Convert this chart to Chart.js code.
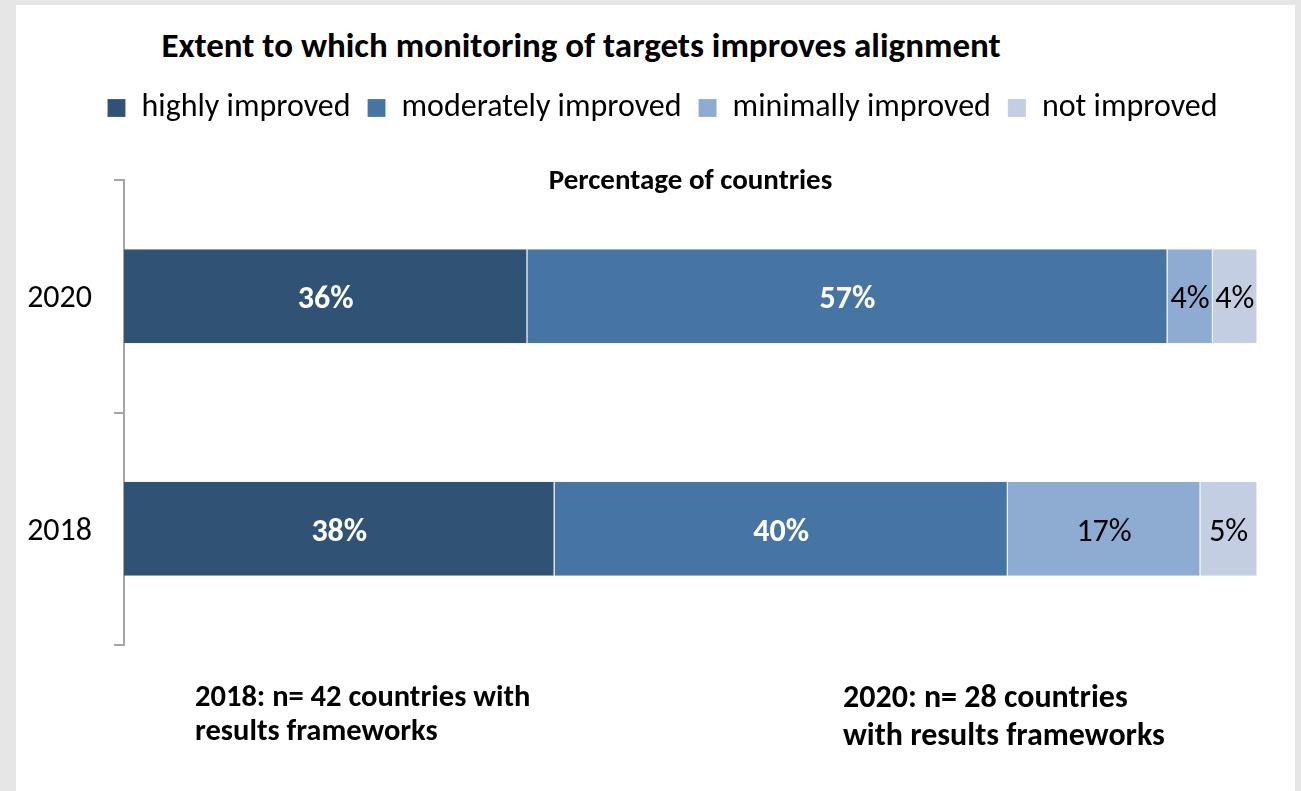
<!DOCTYPE html>
<html>
<head>
<meta charset="utf-8">
<script src="https://cdn.jsdelivr.net/npm/chart.js@4/dist/chart.umd.min.js"></script>
<style>
  html, body { margin: 0; padding: 0; }
  body { width: 1301px; height: 791px; background: #e6e6e6; position: relative; overflow: hidden; font-family: Carlito, Lato, "Open Sans", sans-serif; }
  #panel { position: absolute; left: 16px; top: 5px; width: 1279px; height: 786px; background: #ffffff; }
  #c { position: absolute; left: 0; top: 0; }
  .txt { position: absolute; color: #000; font-weight: bold; white-space: nowrap; }
  #title { left: 0; width: 1162px; text-align: center; top: 24px; font-size: 35px; line-height: 42px; }
  #note1 { left: 195px; top: 679px; font-size: 30.5px; line-height: 34px; }
  #note2 { left: 843px; top: 678px; font-size: 32px; line-height: 38px; }
</style>
</head>
<body>
<div id="panel"></div>
<div id="title" class="txt">Extent to which monitoring of targets improves alignment</div>
<canvas id="c" width="1301" height="791"></canvas>
<div id="note1" class="txt">2018: n= 42 countries with<br>results frameworks</div>
<div id="note2" class="txt">2020: n= 28 countries<br>with results frameworks</div>
<script>
const years = ['2020', '2018'];
const seriesNames = ['highly improved', 'moderately improved', 'minimally improved', 'not improved'];
const highlyImproved = [35.6, 38];
const moderatelyImproved = [56.5, 40];
const minimallyImproved = [4.0, 17];
const notImproved = [3.9, 5];
const axisTitle = 'Percentage of countries';

const colors = ['#2F5275', '#4674A3', '#8EACD1', '#C3CEE3'];
const labelColors = ['#ffffff', '#ffffff', '#000000', '#000000'];
const FONT = 'Carlito, Lato, "Open Sans", sans-serif';

const valueLabels = {
  id: 'valueLabels',
  afterDatasetsDraw(chart) {
    const ctx = chart.ctx;
    chart.data.datasets.forEach((ds, di) => {
      const meta = chart.getDatasetMeta(di);
      meta.data.forEach((el, i) => {
        const v = ds.data[i];
        const x = (el.x + el.base) / 2;
        ctx.save();
        ctx.font = (di < 2 ? 'bold ' : '') + '32px ' + FONT;
        ctx.fillStyle = labelColors[di];
        ctx.textAlign = 'center';
        ctx.textBaseline = 'middle';
        ctx.fillText(Math.round(v) + '%', x, el.y + 4);
        ctx.restore();
      });
    });
  }
};

const seriesData = [highlyImproved, moderatelyImproved, minimallyImproved, notImproved];

new Chart(document.getElementById('c'), {
  type: 'bar',
  data: {
    labels: years,
    datasets: seriesData.map((d, i) => ({
      label: seriesNames[i],
      data: d,
      backgroundColor: colors[i],
      borderColor: 'rgba(225,232,242,0.9)',
      borderWidth: { top: 0, bottom: 0, left: 0, right: 1 },
      borderSkipped: false,
      barPercentage: 0.404,
      categoryPercentage: 1.0
    }))
  },
  options: {
    indexAxis: 'y',
    responsive: false,
    animation: false,
    layout: { padding: { top: 75, left: 24, right: 0, bottom: 146 } },
    plugins: {
      legend: {
        position: 'top',
        labels: {
          boxWidth: 18, boxHeight: 18, padding: 17,
          color: '#000', font: { family: FONT, size: 32 }
        }
      },
      tooltip: { enabled: false },
      title: { display: false }
    },
    scales: {
      x: {
        position: 'top',
        stacked: true,
        min: 0, max: 100,
        grid: { display: false, drawTicks: false },
        border: { display: false },
        ticks: { display: false },
        title: {
          display: true, text: axisTitle, color: '#000',
          font: { family: FONT, size: 29, weight: 'bold', lineHeight: 1.2 },
          padding: { top: 30.6, bottom: -19.4 }
        }
      },
      y: {
        stacked: true,
        grid: { display: true, drawOnChartArea: false, drawTicks: true, tickLength: 10, color: '#a6a6a6', lineWidth: 2, offset: true },
        border: { display: true, color: '#a6a6a6', width: 2 },
        ticks: { color: '#000', padding: 22, labelOffset: 3, font: { family: FONT, size: 32 } },
        afterFit(scale) { scale.width = 100; }
      },
      y2: {
        type: 'category',
        position: 'right',
        display: true,
        grid: { display: false, drawTicks: false },
        border: { display: false },
        ticks: { display: false },
        afterFit(scale) { scale.width = 44; }
      }
    }
  },
  plugins: [valueLabels]
});
</script>
</body>
</html>
